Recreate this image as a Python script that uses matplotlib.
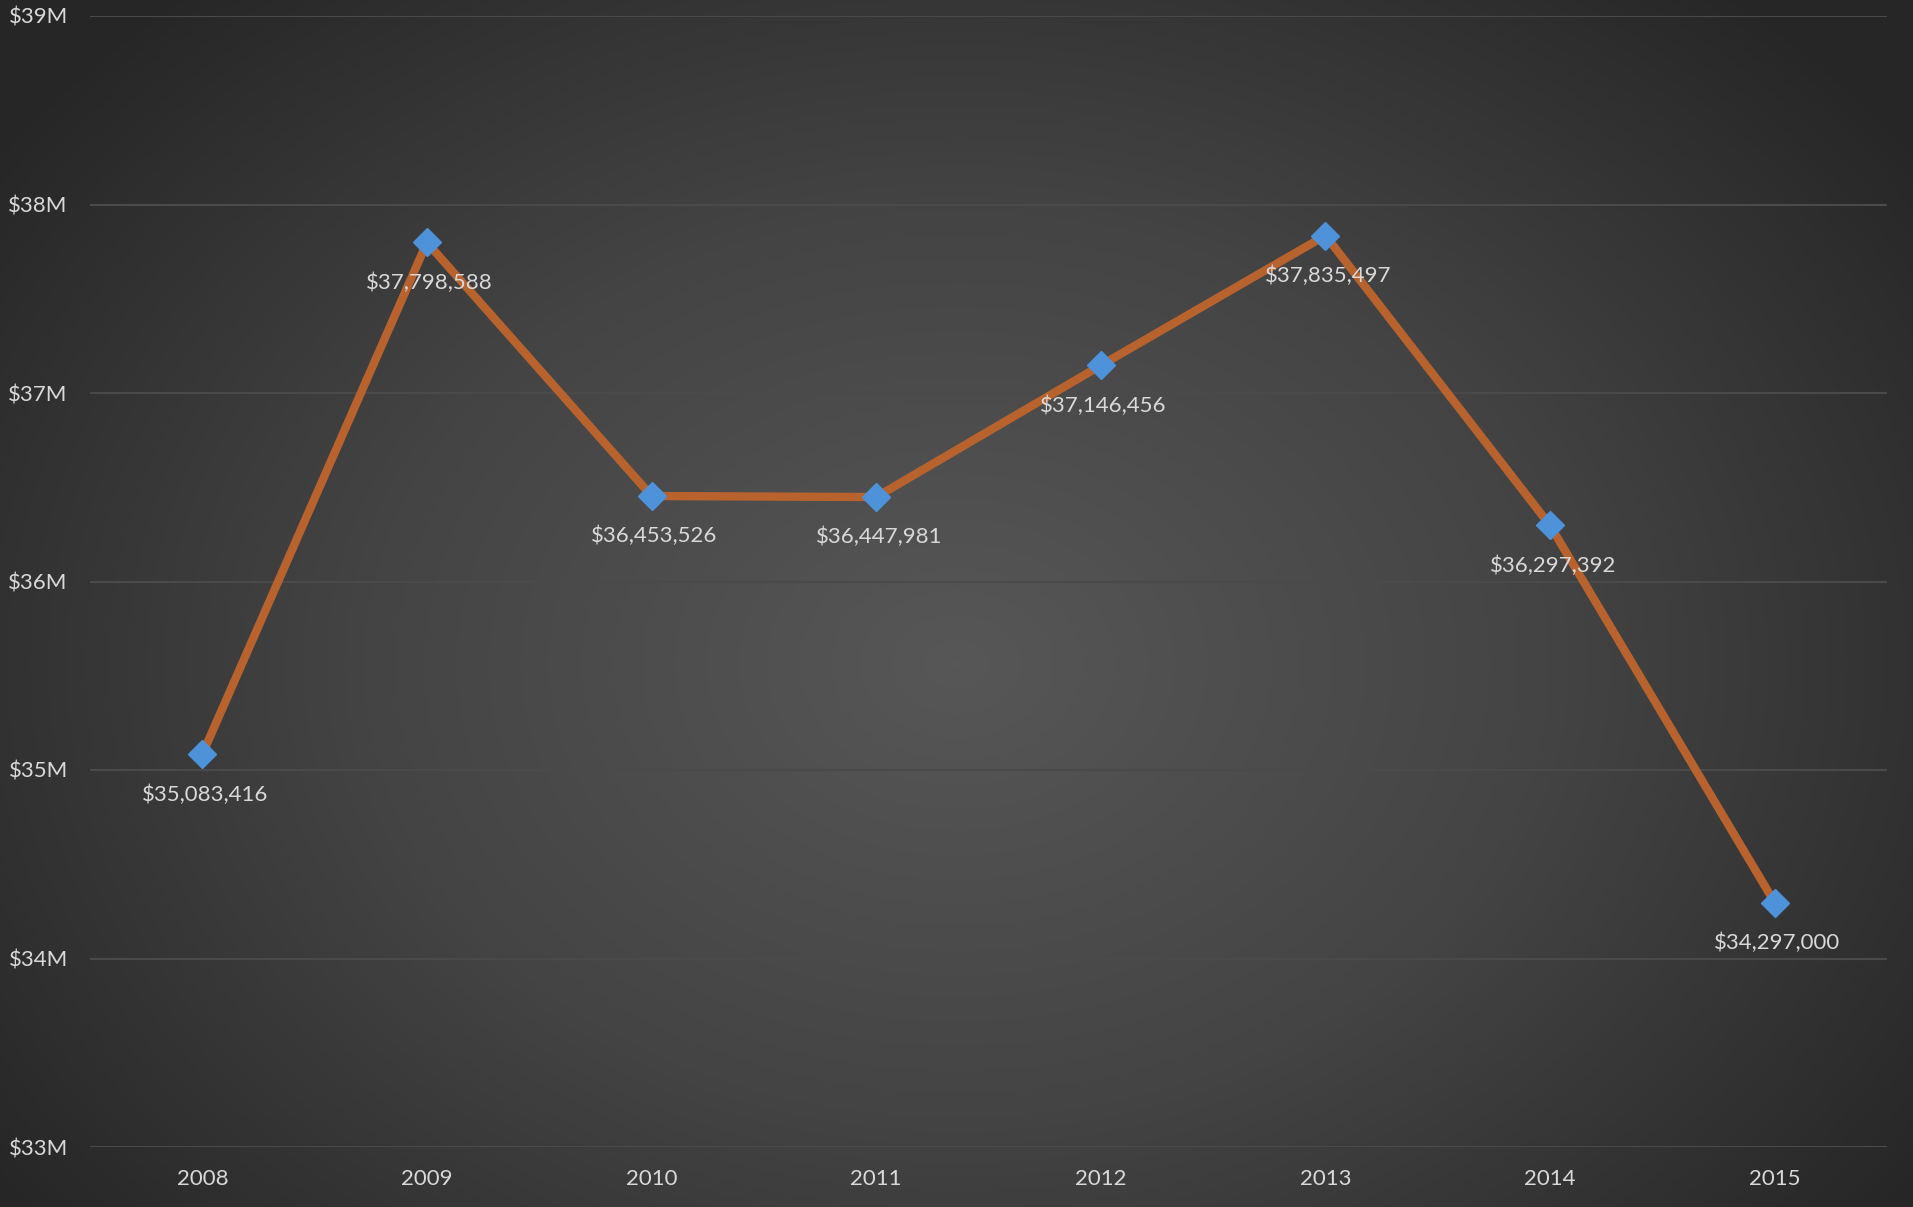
import numpy as np
import matplotlib
matplotlib.use('Agg')
import matplotlib.pyplot as plt
from matplotlib.colors import LinearSegmentedColormap

# Dữ liệu
years = ['2008', '2009', '2010', '2011', '2012', '2013', '2014', '2015']
values = [35083416, 37798588, 36453526, 36447981, 37146456, 37835497, 36297392, 34297000]
y_ticks = [33e6, 34e6, 35e6, 36e6, 37e6, 38e6, 39e6]

plt.rcParams['font.family'] = ['Lato', 'DejaVu Sans']

fig = plt.figure(figsize=(19.13, 12.07), dpi=100)

# Nền gradient tỏa tròn
bg = fig.add_axes([0, 0, 1, 1], zorder=-1)
h, w = 1207, 1913
yy, xx = np.mgrid[0:h, 0:w]
r = np.sqrt(((xx - w * 0.5) / (w * 0.62)) ** 2 + ((yy - h * 0.55) / (h * 0.75)) ** 2)
r = np.clip(r, 0, 1)
cmap = LinearSegmentedColormap.from_list('bg', ['#575757', '#444444', '#262626'])
bg.imshow(r, cmap=cmap, aspect='auto', vmin=0, vmax=1)
bg.axis('off')

ax = fig.add_axes([90 / 1913, 1 - 1147 / 1207, 1797 / 1913, (1147 - 16) / 1207])
ax.patch.set_alpha(0)

x = np.arange(len(years))
ax.plot(x, values, color='#B8622E', lw=6, zorder=3, solid_joinstyle='round')
ax.plot(x, values, ls='none', marker='D', markersize=14, color='#4E93DA',
        markeredgecolor='#4E93DA', zorder=4)

for xi, v in zip(x, values):
    ax.annotate(f'${v:,}', (xi, v), xytext=(2, -29), textcoords='offset points',
                ha='center', va='center', fontsize=16, color='#D9D9D9', zorder=5)

ax.set_xlim(-0.5, len(years) - 0.5)
ax.set_ylim(33e6, 39e6)
ax.set_yticks(y_ticks)
ax.set_yticklabels([f'${int(t / 1e6)}M' for t in y_ticks])
ax.set_xticks(x)
ax.set_xticklabels(years)
ax.tick_params(length=0, colors='#D9D9D9', labelsize=16)
ax.tick_params(axis='x', pad=16)
ax.tick_params(axis='y', pad=16)
ax.grid(axis='y', color='#4a4a4a', lw=1.5)
ax.set_axisbelow(True)
for s in ax.spines.values():
    s.set_visible(False)

fig.savefig('out.png', dpi=100)
